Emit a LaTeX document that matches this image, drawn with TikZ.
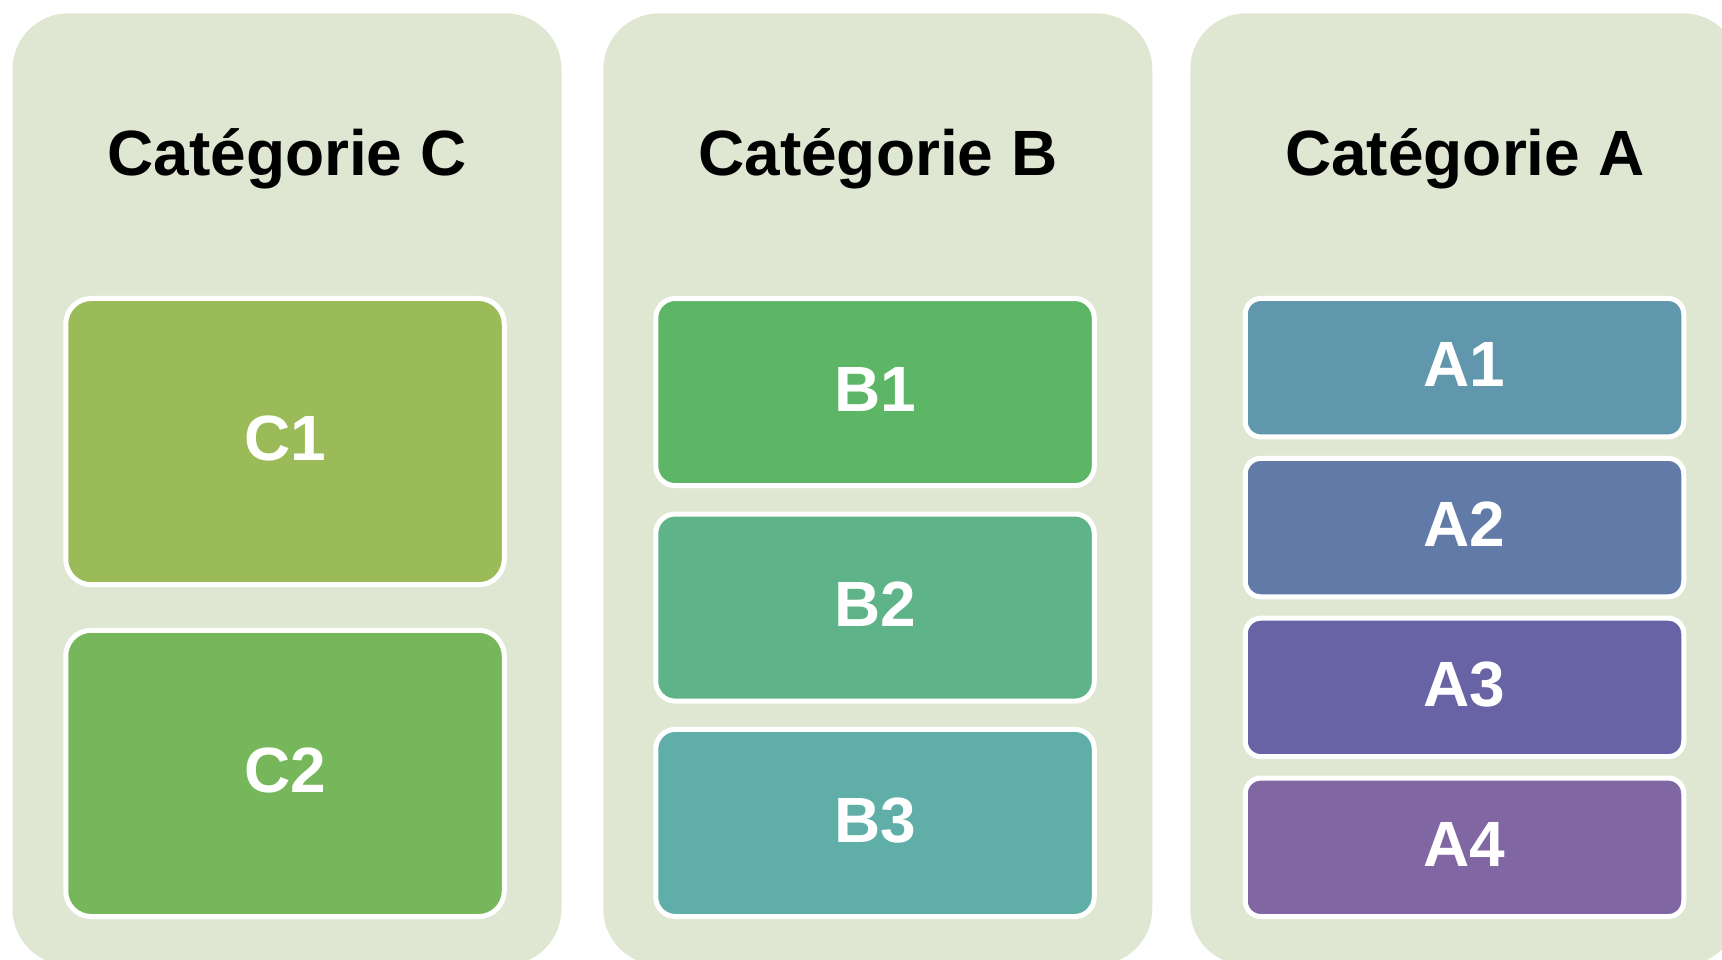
\documentclass[tikz,border=0pt]{standalone}
\usepackage{fontspec}
\setmainfont{Liberation Sans}

\definecolor{panelbg}{HTML}{DFE7D3}
\definecolor{cOne}{HTML}{9BBB59}
\definecolor{cTwo}{HTML}{77B75B}
\definecolor{bOne}{HTML}{5DB566}
\definecolor{bTwo}{HTML}{5EB388}
\definecolor{bThree}{HTML}{5FAEA7}
\definecolor{aOne}{HTML}{6097AD}
\definecolor{aTwo}{HTML}{617AA8}
\definecolor{aThree}{HTML}{6863A5}
\definecolor{aFour}{HTML}{8066A2}

\begin{document}
\begin{tikzpicture}[x=1pt, y=-1pt,
  panel/.style={fill=panelbg, draw=none, rounded corners=56pt, inner sep=0pt,
    minimum width=549pt, minimum height=951.7pt},
  cattitle/.style={anchor=base, inner sep=0pt, text=black,
    font=\fontsize{64}{72}\selectfont\bfseries},
  item/.style={draw=white, line width=5pt, inner sep=0pt, text=white,
    font=\fontsize{64}{72}\selectfont\bfseries, text depth=6pt,
    minimum width=438.5pt},
  itemC/.style={item, minimum height=286.25pt, rounded corners=25.5pt},
  itemB/.style={item, minimum height=187.1pt, rounded corners=19.5pt},
  itemA/.style={item, minimum height=138.45pt, rounded corners=15.5pt},
]
\useasboundingbox (0,0) rectangle (1722,959);

% background columns
\node[panel] (pC) at (287,489.15) {};
\node[panel] (pB) at (877.8,489.15) {};
\node[panel] (pA) at (1464.75,489.15) {};

% column headings
\node[cattitle] (tC) at (287,175.7) {Catégorie C};
\node[cattitle] (tB) at (877.8,175.7) {Catégorie B};
\node[cattitle] (tA) at (1464.75,175.7) {Catégorie A};

% category C
\node[itemC, fill=cOne] (C1) at (285,441.6) {C1};
\node[itemC, fill=cTwo] (C2) at (285,773.4) {C2};

% category B
\node[itemB, fill=bOne] (B1) at (875,392.05) {B1};
\node[itemB, fill=bTwo] (B2) at (875,607.55) {B2};
\node[itemB, fill=bThree] (B3) at (875,822.95) {B3};

% category A
\node[itemA, fill=aOne] (A1) at (1464.5,367.7) {A1};
\node[itemA, fill=aTwo] (A2) at (1464.5,527.6) {A2};
\node[itemA, fill=aThree] (A3) at (1464.5,687.4) {A3};
\node[itemA, fill=aFour] (A4) at (1464.5,847.3) {A4};
\end{tikzpicture}
\end{document}
